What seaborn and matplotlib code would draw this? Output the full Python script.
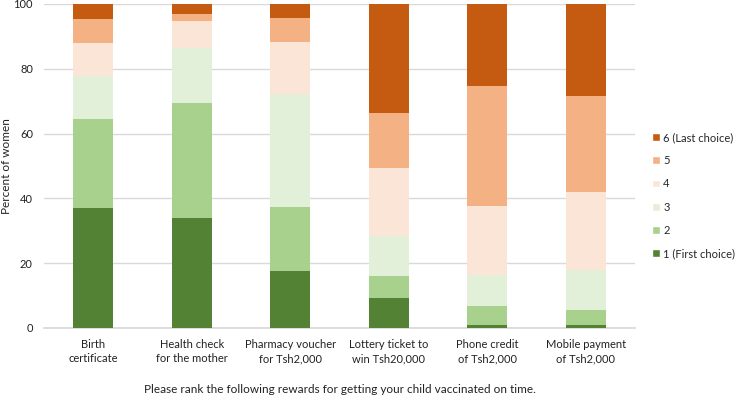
import matplotlib
matplotlib.use("Agg")
import matplotlib.pyplot as plt
import seaborn as sns
import pandas as pd
import numpy as np
from matplotlib.patches import Patch

categories = ["Birth\ncertificate", "Health check\nfor the mother", "Pharmacy voucher\nfor Tsh2,000",
              "Lottery ticket to\nwin Tsh20,000", "Phone credit\nof Tsh2,000", "Mobile payment\nof Tsh2,000"]
ranks = ["1 (First choice)", "2", "3", "4", "5", "6 (Last choice)"]
rank1 = [37.0, 34.0, 17.5, 9.4, 1.0, 1.0]
rank2 = [27.5, 35.3, 19.8, 6.7, 5.7, 4.7]
rank3 = [13.3, 17.2, 34.9, 12.3, 9.7, 12.3]
rank4 = [10.3, 8.3, 16.2, 21.1, 21.3, 24.1]
rank5 = [7.2, 2.1, 7.3, 16.9, 36.9, 29.6]
rank6 = [4.7, 3.1, 4.3, 33.6, 25.4, 28.3]
colors = ["#548235", "#A9D18E", "#E2F0D9", "#FBE5D6", "#F4B183", "#C55A11"]

sns.set_theme(style="white")
plt.rcParams['font.family'] = ['Lato', 'DejaVu Sans']

series = [rank1, rank2, rank3, rank4, rank5, rank6]
fig, ax = plt.subplots(figsize=(7.35, 3.97), dpi=100)
fig.subplots_adjust(left=44/735, right=635/735, top=1-4/397, bottom=1-328/397)

bottom = np.zeros(len(categories))
for r, vals, c in zip(ranks, series, colors):
    df = pd.DataFrame({"cat": categories, "val": vals})
    sns.barplot(data=df, x="cat", y="val", color=c, bottom=bottom, width=0.41,
                ax=ax, saturation=1, linewidth=0, zorder=3)
    bottom = bottom + np.array(vals)

ax.set_ylim(0, 100)
ax.set_xlim(-0.5, 5.5)
ax.set_yticks([0, 20, 40, 60, 80, 100])
ax.yaxis.grid(True, color="#D9D9D9", linewidth=1, zorder=0)
ax.set_axisbelow(True)
for s in ["top", "right", "left"]:
    ax.spines[s].set_visible(False)
ax.spines["bottom"].set_color("#D9D9D9")
ax.tick_params(axis="both", length=0, labelsize=8, colors="#222222")
ax.tick_params(axis="x", pad=8)
ax.tick_params(axis="y", pad=8)
for lbl in ax.get_xticklabels():
    lbl.set_linespacing(1.35)
ax.set_ylabel("")
fig.text(7/735, 1-166/397, "Percent of women", rotation=90, ha="center", va="center",
         fontsize=8.5, color="#222222")
ax.set_xlabel("Please rank the following rewards for getting your child vaccinated on time.",
              fontsize=8.5, color="#222222", labelpad=14)

handles = [Patch(facecolor=c, label=r) for r, c in zip(ranks, colors)][::-1]
fig.legend(handles=handles, loc="upper left", bbox_to_anchor=(652/735, 1-132/397),
           frameon=False, fontsize=8, handlelength=0.7, handleheight=0.7,
           handletextpad=0.3, labelspacing=1.1, borderaxespad=0, borderpad=0)

fig.savefig("out.png", dpi=100)
